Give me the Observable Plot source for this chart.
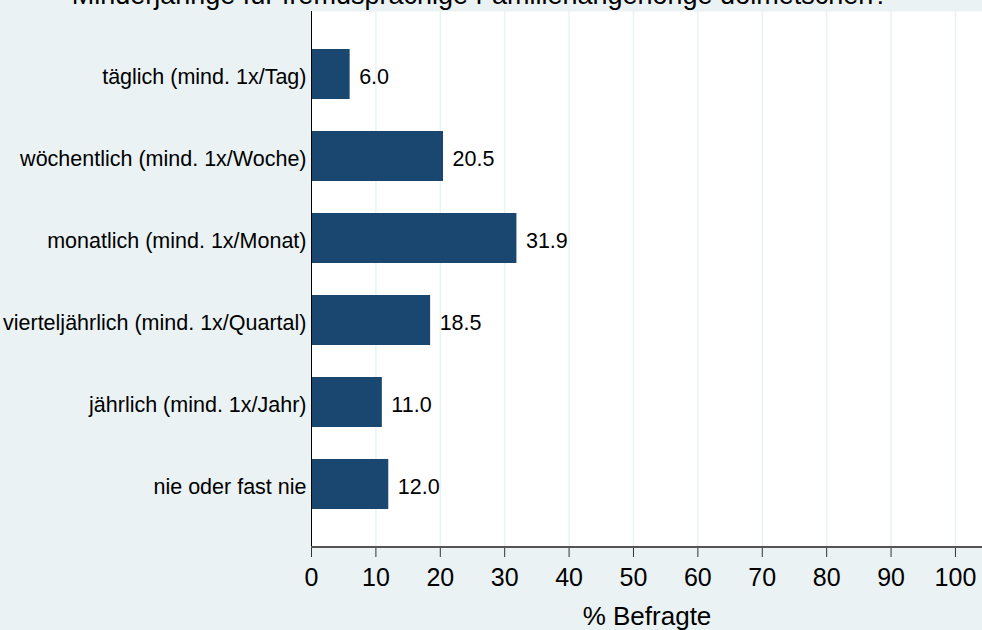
<!DOCTYPE html>
<html>
<head>
<meta charset="utf-8">
<script src="https://cdn.jsdelivr.net/npm/d3@7"></script>
<script src="https://cdn.jsdelivr.net/npm/@observablehq/plot@0.6"></script>
<style>
  html, body { margin: 0; padding: 0; background: #eaf2f3; overflow: hidden; }
  #chart { width: 982px; height: 630px; }
</style>
</head>
<body>
<div id="chart"></div>
<script>
const titleText = "Minderjährige für fremdsprachige Familienangehörige dolmetschen?";
const categories = [
  "täglich (mind. 1x/Tag)",
  "wöchentlich (mind. 1x/Woche)",
  "monatlich (mind. 1x/Monat)",
  "vierteljährlich (mind. 1x/Quartal)",
  "jährlich (mind. 1x/Jahr)",
  "nie oder fast nie"
];
const values = [6.0, 20.5, 31.9, 18.5, 11.0, 12.0];
const xTicks = [0, 10, 20, 30, 40, 50, 60, 70, 80, 90, 100];
const gridTicks = [10, 20, 30, 40, 50, 60, 70, 80, 90, 100];
const xLabel = "% Befragte";

const data = categories.map((c, i) => ({category: c, value: values[i]}));

const font = "'Liberation Sans', Arial, Helvetica, sans-serif";

const bottomLine = (index, scales, channels, dimensions) => {
  const {width, height, marginLeft, marginBottom} = dimensions;
  const y = height - marginBottom;
  return d3.create("svg:line")
    .attr("x1", marginLeft).attr("x2", width)
    .attr("y1", y).attr("y2", y)
    .attr("stroke", "#555").attr("stroke-width", 2)
    .node();
};

const chart = Plot.plot({
  width: 982,
  height: 630,
  marginLeft: 311,
  marginRight: 0,
  marginTop: 11,
  marginBottom: 83,
  style: {background: "#eaf2f3", fontFamily: font, color: "#000", overflow: "visible"},
  x: {domain: [0, 104.2]},
  y: {domain: categories, paddingInner: 0.395, paddingOuter: 0.44},
  marks: [
    Plot.frame({fill: "white", stroke: null}),
    Plot.gridX(gridTicks, {stroke: "#eaf2f3", strokeOpacity: 1, strokeWidth: 1.5}),
    Plot.barX(data, {x: "value", y: "category", fill: "#1a476f"}),
    Plot.text(data, {
      x: "value", y: "category", text: d => d.value.toFixed(1),
      dx: 9, dy: 3, textAnchor: "start", fontSize: 21.5, fill: "#000"
    }),
    Plot.axisY({tickSize: 0, tickPadding: 5, fontSize: 21.5, dy: 3, label: null, fill: "#000"}),
    Plot.axisX({ticks: xTicks, tickSize: 10, tickPadding: 11, fontSize: 25, label: null, stroke: "#333", fill: "#000"}),
    Plot.ruleX([0], {stroke: "#000", strokeWidth: 1}),
    bottomLine,
    Plot.text([xLabel], {frameAnchor: "bottom", lineAnchor: "middle", dy: 69, fontSize: 26, fill: "#000"}),
    Plot.text([titleText], {frameAnchor: "top", lineAnchor: "middle", dx: -167, dy: -16.6, fontSize: 27, fill: "#000"})
  ]
});

document.getElementById("chart").appendChild(chart);
</script>
</body>
</html>
